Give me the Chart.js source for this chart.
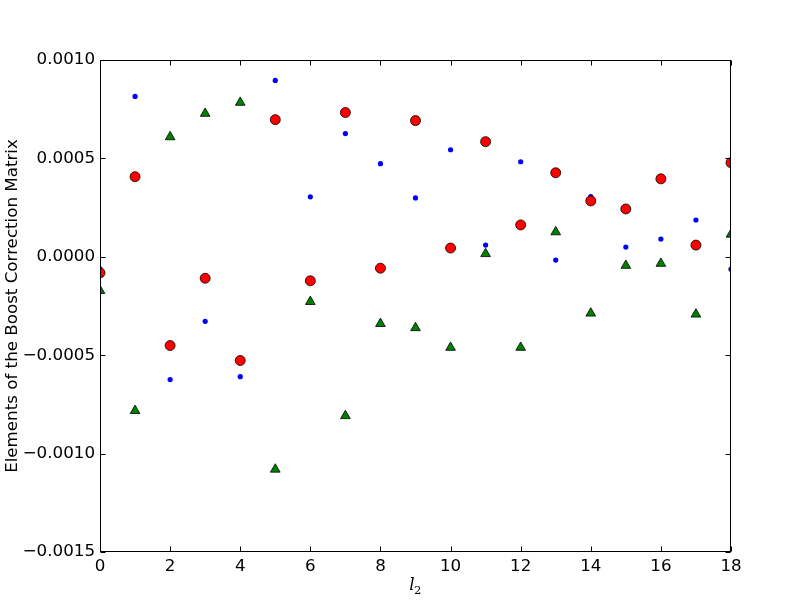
<!DOCTYPE html>
<html>
<head>
<meta charset="utf-8">
<script src="https://cdn.jsdelivr.net/npm/chart.js@4.4.1/dist/chart.umd.min.js"></script>
<style>
  html, body { margin: 0; padding: 0; background: #fff; }
  #wrap { position: absolute; left: 0; top: 0; width: 812px; height: 612px; }
</style>
</head>
<body>
<div id="wrap"><canvas id="c" width="812" height="612"></canvas></div>
<script>
// ---- data ----
const l2Values = [0, 1, 2, 3, 4, 5, 6, 7, 8, 9, 10, 11, 12, 13, 14, 15, 16, 17, 18];
const blueDots = [-0.000061, 0.000815, -0.000624, -0.000328, -0.000609, 0.000896, 0.000305, 0.000626, 0.000473, 0.000299,
                  0.000544, 0.0000595, 0.000483, -0.0000168, 0.000306, 0.0000494, 0.0000903, 0.000187, -0.0000628];
const greenTriangles = [-0.000172, -0.000782, 0.000609, 0.000728, 0.000784, -0.00108, -0.000228, -0.000808, -0.00034, -0.000361,
                        -0.000461, 0.0000153, -0.000461, 0.000126, -0.000287, -0.0000444, -0.0000342, -0.000292, 0.000114];
const redCircles = [-0.0000816, 0.000407, -0.000451, -0.000109, -0.000527, 0.000697, -0.000122, 0.000733, -0.0000578, 0.000692,
                    0.0000444, 0.000585, 0.000162, 0.000427, 0.000284, 0.000243, 0.000396, 0.0000595, 0.000478];
const xTickValues = [0, 2, 4, 6, 8, 10, 12, 14, 16, 18];
const yTickValues = [-0.0015, -0.0010, -0.0005, 0.0000, 0.0005, 0.0010];
const yAxisTitle = "Elements of the Boost Correction Matrix";
const xAxisTitleMain = "l";
const xAxisTitleSub = "2";

const toPts = arr => arr.map((v, i) => ({ x: l2Values[i], y: v }));
const FONT = "DejaVu Sans";
const FS = 16.7;

const framePlugin = {
  id: 'frame',
  afterDatasetsDraw(chart) {
    const { ctx, chartArea: a, scales: { x, y } } = chart;
    ctx.save();
    ctx.strokeStyle = '#000';
    ctx.lineWidth = 1;
    const L = Math.round(a.left) + 0.5, R = Math.round(a.right) - 0.5;
    const T = Math.round(a.top) + 0.5, B = Math.round(a.bottom) - 0.5;
    const tl = 5;
    ctx.beginPath();
    xTickValues.forEach(v => {
      const px = Math.round(x.getPixelForValue(v)) + 0.5;
      ctx.moveTo(px, B); ctx.lineTo(px, B - tl);
      ctx.moveTo(px, T); ctx.lineTo(px, T + tl);
    });
    yTickValues.forEach(v => {
      const py = Math.round(y.getPixelForValue(v)) + 0.5;
      ctx.moveTo(L, py); ctx.lineTo(L + tl, py);
      ctx.moveTo(R, py); ctx.lineTo(R - tl, py);
    });
    ctx.stroke();
    ctx.strokeRect(L, T, R - L, B - T);
    ctx.restore();
  },
  afterDraw(chart) {
    const { ctx, chartArea: a } = chart;
    ctx.save();
    ctx.fillStyle = '#000';
    // y axis title
    ctx.translate(13, (a.top + a.bottom) / 2);
    ctx.rotate(-Math.PI / 2);
    ctx.font = FS + 'px "' + FONT + '"';
    ctx.textAlign = 'center';
    ctx.textBaseline = 'middle';
    ctx.fillText(yAxisTitle, 0, 0);
    ctx.restore();
    // x axis title with subscript
    ctx.save();
    ctx.fillStyle = '#000';
    const cx = (a.left + a.right) / 2;
    ctx.textBaseline = 'alphabetic';
    ctx.textAlign = 'left';
    ctx.font = 'italic ' + FS + 'px "DejaVu Serif"';
    const w1 = ctx.measureText(xAxisTitleMain).width;
    ctx.font = '11.5px "DejaVu Serif"';
    const w2 = ctx.measureText(xAxisTitleSub).width;
    const x0 = cx - (w1 + w2) / 2;
    ctx.font = 'italic ' + FS + 'px "DejaVu Serif"';
    ctx.fillText(xAxisTitleMain, x0, 590);
    ctx.font = '11.5px "DejaVu Serif"';
    ctx.fillText(xAxisTitleSub, x0 + w1 - 0.5, 594);
    ctx.restore();
  }
};

new Chart(document.getElementById('c'), {
  type: 'scatter',
  data: {
    datasets: [
      {
        label: 'red', data: toPts(redCircles), order: 0,
        pointStyle: 'circle', pointRadius: 5, pointBorderWidth: 0.8,
        backgroundColor: '#ff0000', borderColor: '#000000', clip: 0
      },
      {
        label: 'green', data: toPts(greenTriangles), order: 1,
        pointStyle: 'triangle', pointRadius: 5.6, pointBorderWidth: 0.8,
        backgroundColor: '#008000', borderColor: '#000000', clip: 0
      },
      {
        label: 'blue', data: toPts(blueDots), order: 2,
        pointStyle: 'circle', pointRadius: 2.6, pointBorderWidth: 0,
        backgroundColor: '#0000ff', borderColor: '#0000ff', clip: 0
      }
    ]
  },
  options: {
    responsive: false,
    animation: false,
    events: [],
    layout: { padding: { left: 0, top: 60, right: 81, bottom: 0 } },
    plugins: { legend: { display: false }, tooltip: { enabled: false }, title: { display: false } },
    scales: {
      x: {
        type: 'linear', min: 0, max: 18,
        afterFit(s) { s.height = 60; },
        afterBuildTicks(s) { s.ticks = xTickValues.map(v => ({ value: v })); },
        grid: { display: false, drawTicks: false },
        border: { display: false },
        ticks: {
          color: '#000', padding: 5, maxRotation: 0, autoSkip: false,
          font: { family: FONT, size: FS },
          callback: v => String(v)
        }
      },
      y: {
        type: 'linear', min: -0.0015, max: 0.001,
        afterFit(s) { s.width = 100; },
        afterBuildTicks(s) { s.ticks = yTickValues.map(v => ({ value: v })); },
        grid: { display: false, drawTicks: false },
        border: { display: false },
        ticks: {
          color: '#000', padding: 5, autoSkip: false,
          font: { family: FONT, size: FS },
          callback: v => v.toFixed(4).replace('-', '\u2212')
        }
      }
    }
  },
  plugins: [framePlugin]
});
</script>
</body>
</html>
